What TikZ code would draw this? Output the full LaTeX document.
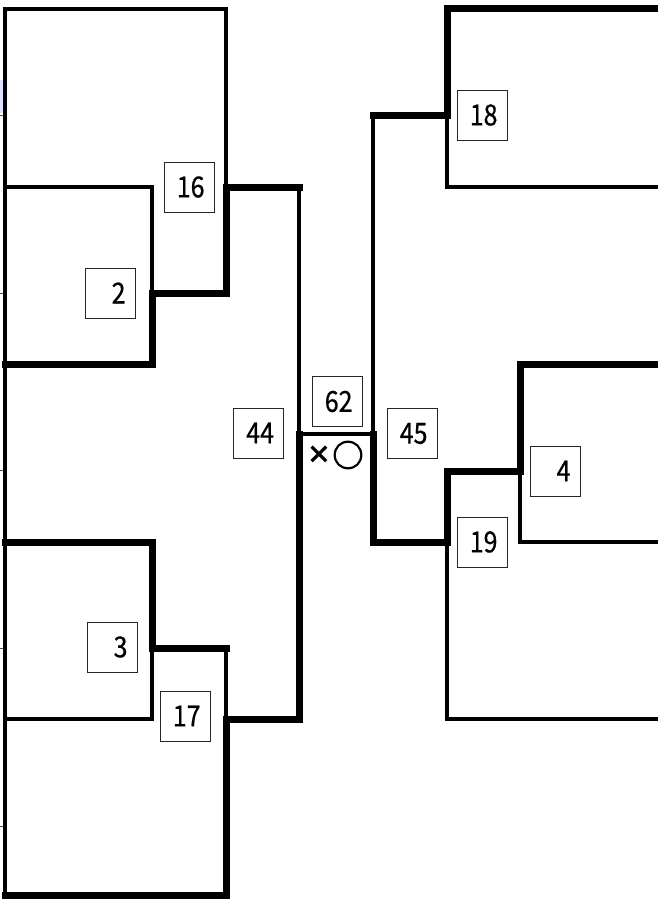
\documentclass[tikz,border=0pt]{standalone}
\usepackage{fontspec}
\newfontfamily\jpd[FakeStretch=0.86,FakeBold=0.6]{Noto Sans CJK JP}
\newfontfamily\ringfont[FakeBold=3]{Noto Sans CJK JP}
\newfontfamily\crossfont{DejaVu Sans Bold}
\begin{document}
\begin{tikzpicture}[x=1pt,y=-1pt,
  thinline/.style={line width=3.5pt,line join=miter,line cap=rect},
  thickline/.style={line width=7pt,line join=miter,line cap=rect},
  midline/.style={line width=4.5pt,line cap=rect},
  tickline/.style={line width=1pt,black!70},
  scorebox/.style={draw,line width=1pt,black!85,text=black,minimum width=50pt,minimum height=50pt,inner sep=0pt,text width=31pt,align=right,font=\jpd\fontsize{29pt}{29pt}\selectfont},
  resultmark/.style={inner sep=0pt,anchor=center}]
\useasboundingbox (0,0) rectangle (658,899);
\fill[blue!12!white] (0,80) rectangle (3,113);
% left ticks
\foreach \yy in {115,293,470,648,826} \draw[tickline] (0,\yy) -- (7,\yy);
% thin lines
\draw[thinline] (226,187) -- (226,9) -- (5,9) -- (5,895);
\draw[thinline] (5,187) -- (152,187) -- (152,293);
\draw[thinline] (299,187) -- (299,434);
\draw[thinline] (5,719) -- (152,719) -- (152,648);
\draw[thinline] (226,648) -- (226,719);
\draw[thinline] (373,115) -- (373,434);
\draw[thinline] (658,187) -- (447,187) -- (447,115);
\draw[thinline] (658,542) -- (520,542) -- (520,471);
\draw[thinline] (658,719) -- (447,719) -- (447,542);
\draw[midline] (299,434) -- (373,434);
% thick (winner) lines
\draw[thickline] (5,364) -- (152,364) -- (152,293) -- (226,293) -- (226,187) -- (299,187);
\draw[thickline] (5,542) -- (152,542) -- (152,648) -- (226,648);
\draw[thickline] (5,895) -- (226,895) -- (226,719) -- (299,719) -- (299,434);
\draw[thickline] (658,9) -- (447,9) -- (447,115) -- (373,115);
\draw[thickline] (658,364) -- (520,364) -- (520,471) -- (447,471) -- (447,542) -- (373,542) -- (373,434);
% score boxes
\node[scorebox] (b16) at (189,187) {16};
\node[scorebox] (b2) at (110,293) {2};
\node[scorebox] (b44) at (258.5,433) {44};
\node[scorebox] (b62) at (337,401.5) {62};
\node[scorebox] (b45) at (412,433.5) {45};
\node[scorebox] (b18) at (482,115) {18};
\node[scorebox] (b4) at (555,471) {4};
\node[scorebox] (b19) at (482,542) {19};
\node[scorebox] (b3) at (112,647) {3};
\node[scorebox] (b17) at (185,716) {17};
\node[resultmark,font=\crossfont\fontsize{29pt}{29pt}\selectfont] (xmark) at (319,455) {×};
\node[resultmark,font=\ringfont\fontsize{31pt}{31pt}\selectfont] (omark) at (348,455) {○};
\end{tikzpicture}
\end{document}
